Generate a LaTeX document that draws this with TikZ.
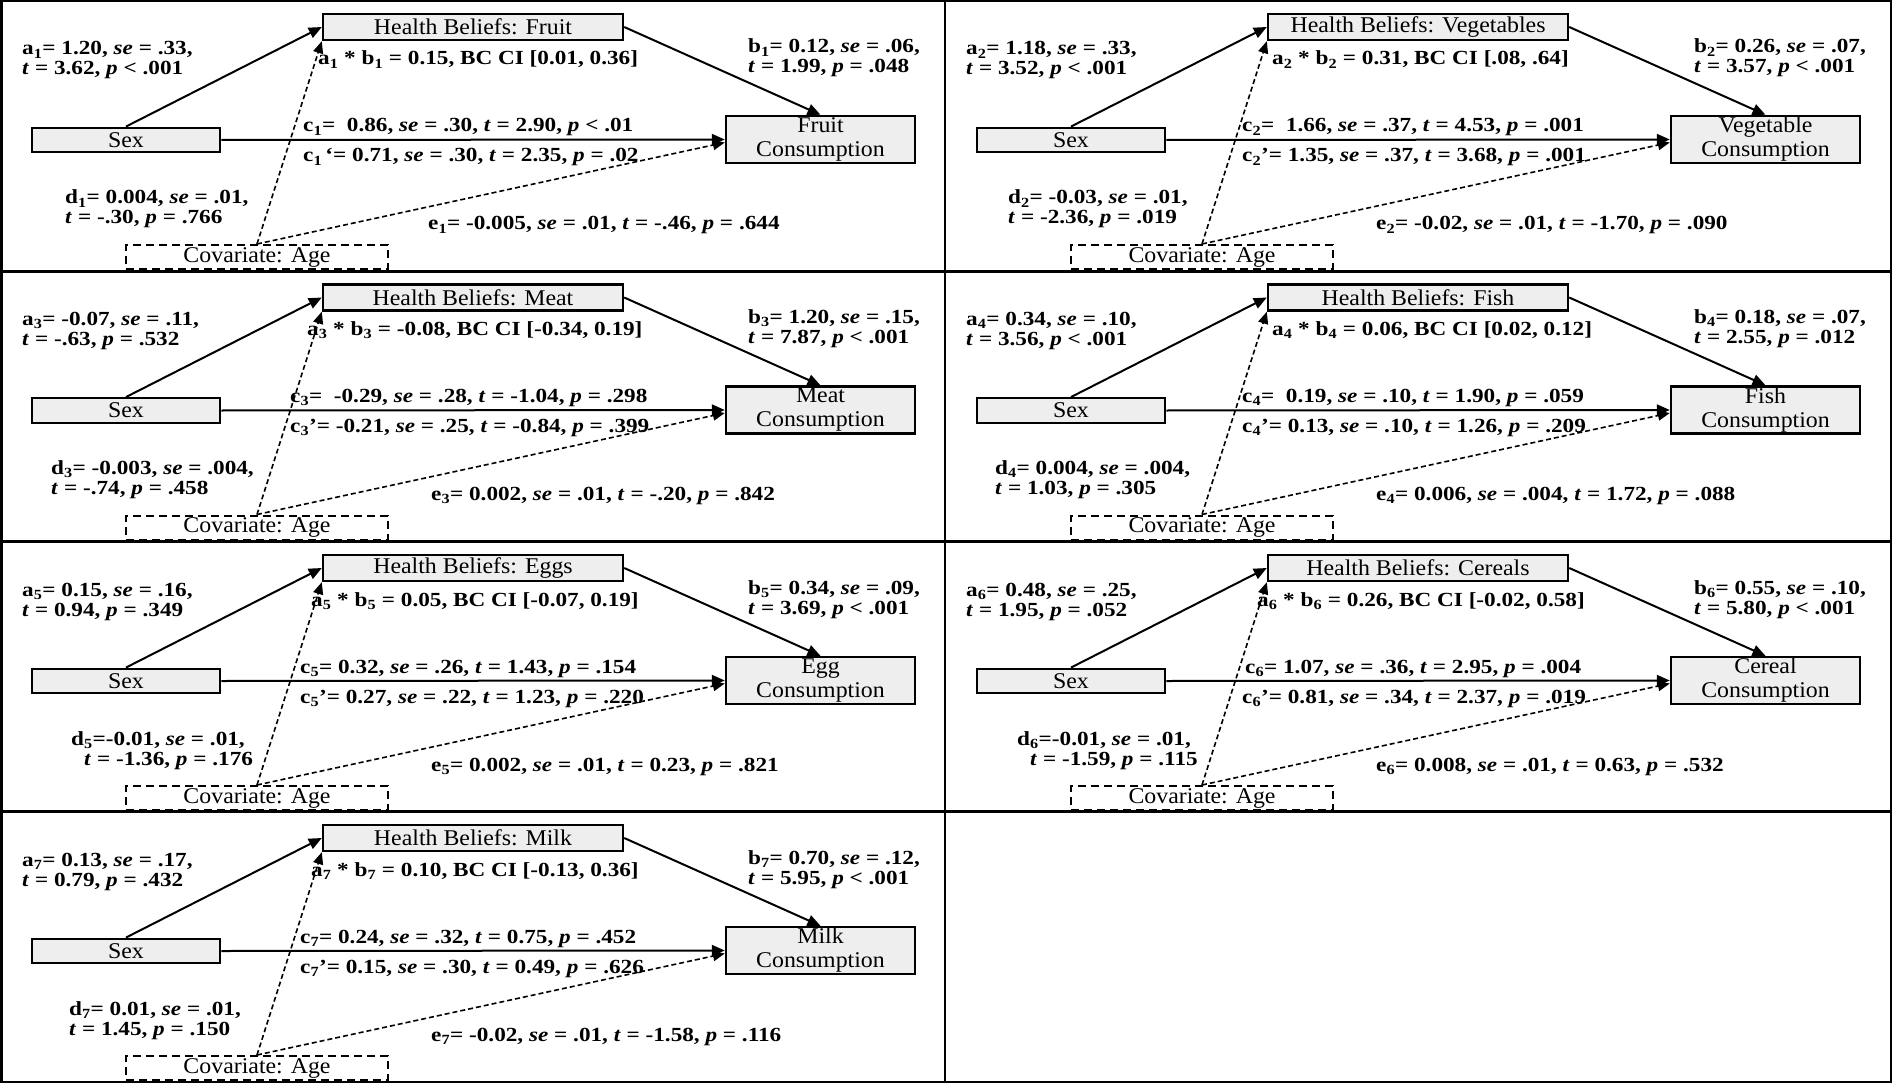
\documentclass[tikz,border=0pt]{standalone}
\usepackage{fontspec}
\setmainfont{Liberation Serif}
\newfontfamily\statfont{Liberation Serif}[FakeStretch=1.16]
\newfontfamily\boxfont{Liberation Serif}[FakeStretch=1.06]
\usetikzlibrary{arrows.meta}
\definecolor{boxgray}{RGB}{238,238,238}
\newcommand{\ssub}[1]{\textsubscript{#1}}
\newcommand{\itl}[1]{\textit{#1}}
\tikzset{
  box/.style={draw=black, line width=2.4pt, fill=boxgray, inner sep=0pt, text=black,
    font=\boxfont\fontsize{22.5}{24}\selectfont},
  covbox/.style={draw=black, line width=2pt, dash pattern=on 8pt off 5pt, fill=white, inner sep=0pt,
    minimum width=262pt, minimum height=24pt, font=\boxfont\fontsize{22.5}{24}\selectfont},
  stat/.style={anchor=base west, inner sep=0pt, font=\statfont\bfseries\fontsize{20}{20}\selectfont},
  solidarrow/.style={line width=2pt, -{Triangle[length=13pt,width=11pt]}},
  dasharrow/.style={line width=1.6pt, dash pattern=on 5pt off 3pt, -{Triangle[length=12pt,width=10pt]}},
  frame/.style={line width=2.5pt}
}
% shapes and connectors of one panel: #1 prefix, #2 belief label, #3 consumption label
\newcommand{\panelshapes}[3]{%
  \node[box, minimum width=188.5pt, minimum height=24.5pt] (#1sex) at (126,140) {Sex};
  \node[box, minimum width=300pt, minimum height=26pt] (#1hb) at (473,27) {Health Beliefs: #2};
  \node[box, minimum width=189pt, minimum height=47pt, align=center] (#1cons) at (820.5,139.5) {#3\\Consumption};
  \node[covbox] (#1cov) at (257,257) {Covariate: Age};
  \draw[solidarrow] (#1sex.north) -- (#1hb.west);
  \draw[solidarrow] (#1hb.east) -- (#1cons.north);
  \draw[solidarrow] (#1sex.east) -- (#1cons.west);
  \draw[dasharrow] (#1cov.north) -- (#1hb.south west);
  \draw[dasharrow] (#1cov.north) -- ([yshift=-3pt]#1cons.west);
}
\begin{document}
\begin{tikzpicture}[x=1pt,y=-1pt]
\useasboundingbox (0,0) rectangle (1892,1083);
% grid
\draw[frame] (1.25,1.25) rectangle (1890.75,1081.75);
\draw[frame] (945,1.25) -- (945,1081.75);
\draw[frame] (1.25,271.5) -- (1890.75,271.5);
\draw[frame] (1.25,541.5) -- (1890.75,541.5);
\draw[frame] (1.25,811.5) -- (1890.75,811.5);

% Panel 1: Fruit
\begin{scope}[shift={(0,0)}]
\panelshapes{p1}{Fruit}{Fruit}
\node[stat] (p1a1) at (22,55) {a\ssub{1}= 1.20, \itl{se} = .33,};
\node[stat] (p1a2) at (22,75) {\itl{t} = 3.62, \itl{p} < .001};
\node[stat] (p1ab) at (318,65) {a\ssub{1} * b\ssub{1} = 0.15, BC CI [0.01, 0.36]};
\node[stat] (p1b1) at (748,53) {b\ssub{1}= 0.12, \itl{se} = .06,};
\node[stat] (p1b2) at (748,73) {\itl{t} = 1.99, \itl{p} = .048};
\node[stat] (p1c) at (303,132) {c\ssub{1}=\ \ 0.86, \itl{se} = .30, \itl{t} = 2.90, \itl{p} < .01};
\node[stat] (p1cp) at (303,162) {c\ssub{1}\,\textquoteleft= 0.71, \itl{se} = .30, \itl{t} = 2.35, \itl{p} = .02};
\node[stat] (p1d1) at (65,204) {d\ssub{1}= 0.004, \itl{se} = .01,};
\node[stat] (p1d2) at (65,224) {\itl{t} = -.30, \itl{p} = .766};
\node[stat] (p1e) at (428,230) {e\ssub{1}= -0.005, \itl{se} = .01, \itl{t} = -.46, \itl{p} = .644};
\end{scope}

% Panel 2: Vegetables
\begin{scope}[shift={(945,0)}]
\panelshapes{p2}{Vegetables}{Vegetable}
\node[stat] (p2a1) at (21,55) {a\ssub{2}= 1.18, \itl{se} = .33,};
\node[stat] (p2a2) at (21,75) {\itl{t} = 3.52, \itl{p} < .001};
\node[stat] (p2ab) at (327,65) {a\ssub{2} * b\ssub{2} = 0.31, BC CI [.08, .64]};
\node[stat] (p2b1) at (749,53) {b\ssub{2}= 0.26, \itl{se} = .07,};
\node[stat] (p2b2) at (749,73) {\itl{t} = 3.57, \itl{p} < .001};
\node[stat] (p2c) at (297,132) {c\ssub{2}=\ \ 1.66, \itl{se} = .37, \itl{t} = 4.53, \itl{p} = .001};
\node[stat] (p2cp) at (297,162) {c\ssub{2}\textquoteright= 1.35, \itl{se} = .37, \itl{t} = 3.68, \itl{p} = .001};
\node[stat] (p2d1) at (63,204) {d\ssub{2}= -0.03, \itl{se} = .01,};
\node[stat] (p2d2) at (63,224) {\itl{t} = -2.36, \itl{p} = .019};
\node[stat] (p2e) at (431,230) {e\ssub{2}= -0.02, \itl{se} = .01, \itl{t} = -1.70, \itl{p} = .090};
\end{scope}

% Panel 3: Meat
\begin{scope}[shift={(0,270.5)}]
\panelshapes{p3}{Meat}{Meat}
\node[stat] (p3a1) at (22,55) {a\ssub{3}= -0.07, \itl{se} = .11,};
\node[stat] (p3a2) at (22,75) {\itl{t} = -.63, \itl{p} = .532};
\node[stat] (p3ab) at (307,65) {a\ssub{3} * b\ssub{3} = -0.08, BC CI [-0.34, 0.19]};
\node[stat] (p3b1) at (748,53) {b\ssub{3}= 1.20, \itl{se} = .15,};
\node[stat] (p3b2) at (748,73) {\itl{t} = 7.87, \itl{p} < .001};
\node[stat] (p3c) at (290,132) {c\ssub{3}=\ \ -0.29, \itl{se} = .28, \itl{t} = -1.04, \itl{p} = .298};
\node[stat] (p3cp) at (290,162) {c\ssub{3}\textquoteright= -0.21, \itl{se} = .25, \itl{t} = -0.84, \itl{p} = .399};
\node[stat] (p3d1) at (51,204) {d\ssub{3}= -0.003, \itl{se} = .004,};
\node[stat] (p3d2) at (51,224) {\itl{t} = -.74, \itl{p} = .458};
\node[stat] (p3e) at (431,230) {e\ssub{3}= 0.002, \itl{se} = .01, \itl{t} = -.20, \itl{p} = .842};
\end{scope}

% Panel 4: Fish
\begin{scope}[shift={(945,270.5)}]
\panelshapes{p4}{Fish}{Fish}
\node[stat] (p4a1) at (21,55) {a\ssub{4}= 0.34, \itl{se} = .10,};
\node[stat] (p4a2) at (21,75) {\itl{t} = 3.56, \itl{p} < .001};
\node[stat] (p4ab) at (327,65) {a\ssub{4} * b\ssub{4} = 0.06, BC CI [0.02, 0.12]};
\node[stat] (p4b1) at (749,53) {b\ssub{4}= 0.18, \itl{se} = .07,};
\node[stat] (p4b2) at (749,73) {\itl{t} = 2.55, \itl{p} = .012};
\node[stat] (p4c) at (297,132) {c\ssub{4}=\ \ 0.19, \itl{se} = .10, \itl{t} = 1.90, \itl{p} = .059};
\node[stat] (p4cp) at (297,162) {c\ssub{4}\textquoteright= 0.13, \itl{se} = .10, \itl{t} = 1.26, \itl{p} = .209};
\node[stat] (p4d1) at (50,204) {d\ssub{4}= 0.004, \itl{se} = .004,};
\node[stat] (p4d2) at (50,224) {\itl{t} = 1.03, \itl{p} = .305};
\node[stat] (p4e) at (431,230) {e\ssub{4}= 0.006, \itl{se} = .004, \itl{t} = 1.72, \itl{p} = .088};
\end{scope}

% Panel 5: Eggs
\begin{scope}[shift={(0,541)}]
\panelshapes{p5}{Eggs}{Egg}
\node[stat] (p5a1) at (22,55) {a\ssub{5}= 0.15, \itl{se} = .16,};
\node[stat] (p5a2) at (22,75) {\itl{t} = 0.94, \itl{p} = .349};
\node[stat] (p5ab) at (311,65) {a\ssub{5} * b\ssub{5} = 0.05, BC CI [-0.07, 0.19]};
\node[stat] (p5b1) at (748,53) {b\ssub{5}= 0.34, \itl{se} = .09,};
\node[stat] (p5b2) at (748,73) {\itl{t} = 3.69, \itl{p} < .001};
\node[stat] (p5c) at (300,132) {c\ssub{5}= 0.32, \itl{se} = .26, \itl{t} = 1.43, \itl{p} = .154};
\node[stat] (p5cp) at (300,162) {c\ssub{5}\textquoteright= 0.27, \itl{se} = .22, \itl{t} = 1.23, \itl{p} = .220};
\node[stat] (p5d1) at (71,204) {d\ssub{5}=-0.01, \itl{se} = .01,};
\node[stat] (p5d2) at (84,224) {\itl{t} = -1.36, \itl{p} = .176};
\node[stat] (p5e) at (431,230) {e\ssub{5}= 0.002, \itl{se} = .01, \itl{t} = 0.23, \itl{p} = .821};
\end{scope}

% Panel 6: Cereals
\begin{scope}[shift={(945,541)}]
\panelshapes{p6}{Cereals}{Cereal}
\node[stat] (p6a1) at (21,55) {a\ssub{6}= 0.48, \itl{se} = .25,};
\node[stat] (p6a2) at (21,75) {\itl{t} = 1.95, \itl{p} = .052};
\node[stat] (p6ab) at (312,65) {a\ssub{6} * b\ssub{6} = 0.26, BC CI [-0.02, 0.58]};
\node[stat] (p6b1) at (749,53) {b\ssub{6}= 0.55, \itl{se} = .10,};
\node[stat] (p6b2) at (749,73) {\itl{t} = 5.80, \itl{p} < .001};
\node[stat] (p6c) at (300,132) {c\ssub{6}= 1.07, \itl{se} = .36, \itl{t} = 2.95, \itl{p} = .004};
\node[stat] (p6cp) at (297,162) {c\ssub{6}\textquoteright= 0.81, \itl{se} = .34, \itl{t} = 2.37, \itl{p} = .019};
\node[stat] (p6d1) at (72,204) {d\ssub{6}=-0.01, \itl{se} = .01,};
\node[stat] (p6d2) at (85,224) {\itl{t} = -1.59, \itl{p} = .115};
\node[stat] (p6e) at (431,230) {e\ssub{6}= 0.008, \itl{se} = .01, \itl{t} = 0.63, \itl{p} = .532};
\end{scope}

% Panel 7: Milk
\begin{scope}[shift={(0,811)}]
\panelshapes{p7}{Milk}{Milk}
\node[stat] (p7a1) at (22,55) {a\ssub{7}= 0.13, \itl{se} = .17,};
\node[stat] (p7a2) at (22,75) {\itl{t} = 0.79, \itl{p} = .432};
\node[stat] (p7ab) at (311,65) {a\ssub{7} * b\ssub{7} = 0.10, BC CI [-0.13, 0.36]};
\node[stat] (p7b1) at (748,53) {b\ssub{7}= 0.70, \itl{se} = .12,};
\node[stat] (p7b2) at (748,73) {\itl{t} = 5.95, \itl{p} < .001};
\node[stat] (p7c) at (300,132) {c\ssub{7}= 0.24, \itl{se} = .32, \itl{t} = 0.75, \itl{p} = .452};
\node[stat] (p7cp) at (300,162) {c\ssub{7}\textquoteright= 0.15, \itl{se} = .30, \itl{t} = 0.49, \itl{p} = .626};
\node[stat] (p7d1) at (69,204) {d\ssub{7}= 0.01, \itl{se} = .01,};
\node[stat] (p7d2) at (69,224) {\itl{t} = 1.45, \itl{p} = .150};
\node[stat] (p7e) at (431,230) {e\ssub{7}= -0.02, \itl{se} = .01, \itl{t} = -1.58, \itl{p} = .116};
\end{scope}
\end{tikzpicture}
\end{document}
